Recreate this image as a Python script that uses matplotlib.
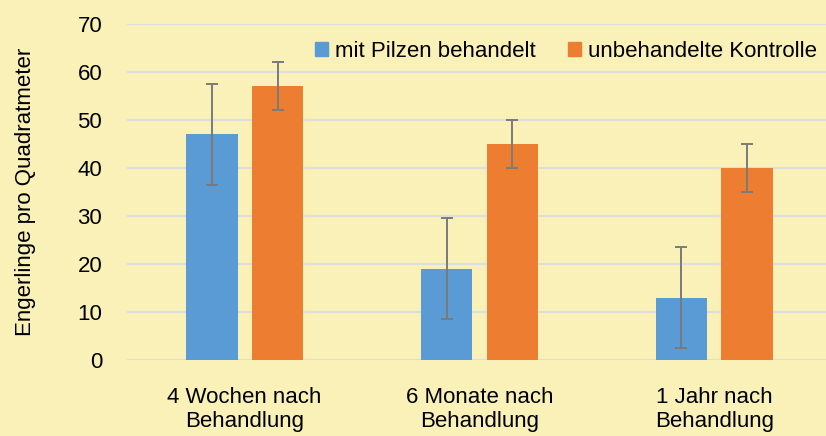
import matplotlib
matplotlib.use("Agg")
import matplotlib.pyplot as plt
from matplotlib.patches import Patch
import numpy as np

plt.rcParams["font.family"] = ["Liberation Sans", "DejaVu Sans"]

# ── Data ──────────────────────────────────────────────────────────────────────
categories = ["4 Wochen nach\nBehandlung", "6 Monate nach\nBehandlung", "1 Jahr nach\nBehandlung"]
treated = [47, 19, 13]
treated_err = [10.5, 10.5, 10.5]
control = [57, 45, 40]
control_err = [5, 5, 5]
series_names = ["mit Pilzen behandelt", "unbehandelte Kontrolle"]

BG = "#FAF1B8"
BLUE = "#5B9BD5"
ORANGE = "#ED7D31"
GRID = "#DCDCE2"
ERR = "#7A7A7A"
FS = 16

fig = plt.figure(figsize=(8.26, 4.36), dpi=100, facecolor=BG)
ax = fig.add_axes([0.154, 0.174, 0.853, 0.771], facecolor=BG)

x = np.arange(len(categories))
w = 0.22
off = 0.14
ekw = dict(ecolor=ERR, elinewidth=1.4, capsize=4.5, capthick=1.4)
ax.bar(x - off, treated, w, color=BLUE, yerr=treated_err, error_kw=ekw, zorder=3)
ax.bar(x + off, control, w, color=ORANGE, yerr=control_err, error_kw=ekw, zorder=3)

ax.set_xlim(-0.5, len(categories) - 0.5)
ax.set_ylim(0, 70)
ax.set_yticks(range(0, 71, 10))
ax.set_xticks(x)
ax.set_xticklabels(categories, fontsize=FS)
ax.tick_params(axis="y", labelsize=FS, length=0, pad=18)
ax.tick_params(axis="x", length=0, pad=19)
ax.grid(axis="y", color=GRID, linewidth=1.5, zorder=0)
for s in ax.spines.values():
    s.set_visible(False)

ax.set_ylabel("Engerlinge pro Quadratmeter", fontsize=FS, labelpad=30)

handles = [Patch(color=BLUE), Patch(color=ORANGE)]
fig.legend(handles, series_names, loc="upper right", bbox_to_anchor=(1.0, 0.927),
           ncol=2, frameon=False, fontsize=FS, handlelength=0.6, handleheight=0.6,
           handletextpad=0.3, columnspacing=1.45, borderaxespad=0)

fig.savefig("out.png", dpi=100, facecolor=BG)
